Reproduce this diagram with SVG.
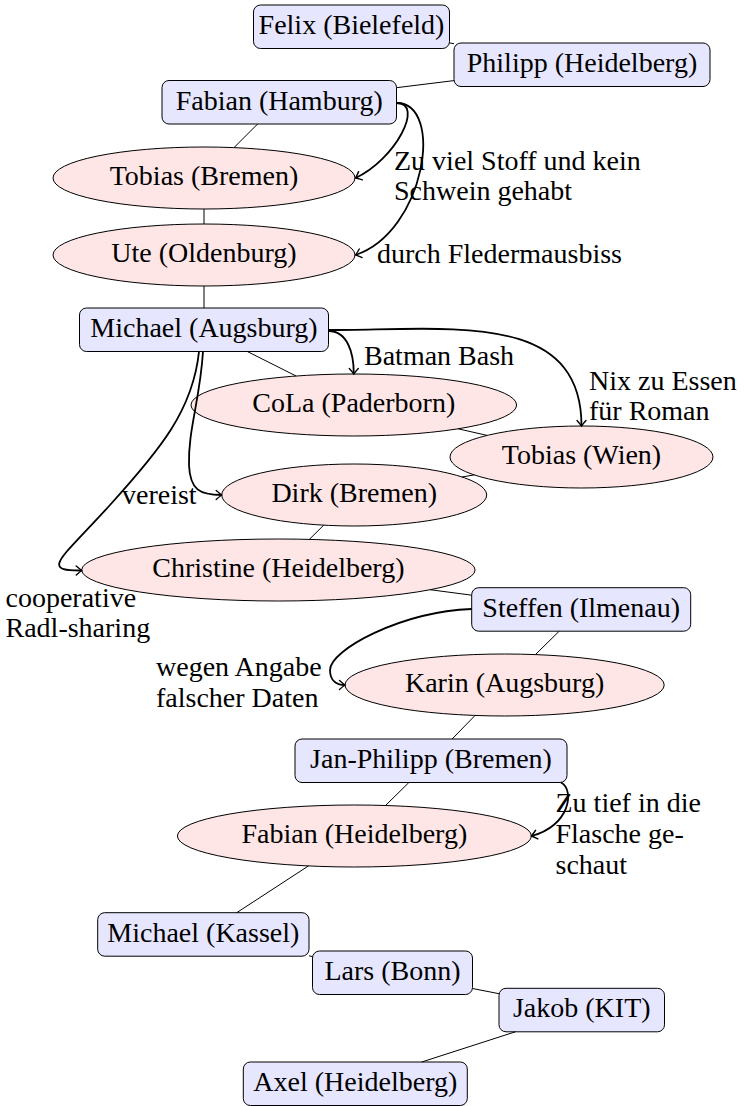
<svg xmlns="http://www.w3.org/2000/svg" width="749" height="1106" viewBox="0 0 749 1106">
<style>
text{font-family:'Liberation Serif','Times New Roman','Tinos','Nimbus Roman','FreeSerif','Noto Serif','DejaVu Serif',serif;font-size:28px;fill:#000}
.n{text-anchor:middle}
.box{fill:#e6e6ff;stroke:#000;stroke-width:1}
.ell{fill:#ffe6e6;stroke:#000;stroke-width:1}
.e{stroke:#000;stroke-width:1;fill:none}
.a{stroke:#000;stroke-width:1.8;fill:none;marker-end:url(#tip)}
</style>
<defs>
<marker id="tip" markerUnits="userSpaceOnUse" viewBox="-7 -6 8 12" markerWidth="8" markerHeight="12" refX="0" refY="0" orient="auto" overflow="visible">
<path d="M-5.5,-4.5 Q-1.5,-1 0,0 Q-1.5,1 -5.5,4.5" fill="none" stroke="#000" stroke-width="1.4" stroke-linecap="round"/>
</marker>
</defs>
<g id="nodes">
<g id="felix"><rect class="box" x="253.5" y="5" width="196" height="43.5" rx="7"/><text class="n" x="351.5" y="34">Felix (Bielefeld)</text></g>
<g id="philipp"><rect class="box" x="454" y="43" width="256" height="43.5" rx="7"/><text class="n" x="582" y="72">Philipp (Heidelberg)</text></g>
<g id="fabian-hamburg"><rect class="box" x="162" y="80.5" width="234.5" height="43.5" rx="7"/><text class="n" x="279.25" y="109.5">Fabian (Hamburg)</text></g>
<g id="tobias-bremen"><ellipse class="ell" cx="204" cy="178" rx="151" ry="31"/><text class="n" x="204" y="185.3">Tobias (Bremen)</text></g>
<g id="ute"><ellipse class="ell" cx="204" cy="255" rx="151" ry="31"/><text class="n" x="204" y="262.3">Ute (Oldenburg)</text></g>
<g id="michael-augsburg"><rect class="box" x="79.5" y="308" width="249" height="43.5" rx="7"/><text class="n" x="204" y="337">Michael (Augsburg)</text></g>
<g id="cola"><ellipse class="ell" cx="353.8" cy="405" rx="162.8" ry="31"/><text class="n" x="353.8" y="412.3">CoLa (Paderborn)</text></g>
<g id="tobias-wien"><ellipse class="ell" cx="581.5" cy="457" rx="131.5" ry="31"/><text class="n" x="581.5" y="464.3">Tobias (Wien)</text></g>
<g id="dirk"><ellipse class="ell" cx="354.2" cy="495" rx="132.5" ry="31"/><text class="n" x="354.2" y="502.3">Dirk (Bremen)</text></g>
<g id="christine"><ellipse class="ell" cx="278.4" cy="570" rx="196.7" ry="31"/><text class="n" x="278.4" y="577.3">Christine (Heidelberg)</text></g>
<g id="steffen"><rect class="box" x="471.7" y="587.7" width="219" height="43.5" rx="7"/><text class="n" x="581.2" y="616.7">Steffen (Ilmenau)</text></g>
<g id="karin"><ellipse class="ell" cx="504.6" cy="685" rx="159.6" ry="31"/><text class="n" x="504.6" y="692.3">Karin (Augsburg)</text></g>
<g id="jan-philipp"><rect class="box" x="295" y="739" width="272" height="43.5" rx="7"/><text class="n" x="431" y="768">Jan-Philipp (Bremen)</text></g>
<g id="fabian-heidelberg"><ellipse class="ell" cx="354.4" cy="836" rx="177" ry="31"/><text class="n" x="354.4" y="843.3">Fabian (Heidelberg)</text></g>
<g id="michael-kassel"><rect class="box" x="97.7" y="912.7" width="211.3" height="43.5" rx="7"/><text class="n" x="203.35" y="941.7">Michael (Kassel)</text></g>
<g id="lars"><rect class="box" x="312.5" y="951" width="160" height="43.5" rx="7"/><text class="n" x="392.5" y="980">Lars (Bonn)</text></g>
<g id="jakob"><rect class="box" x="499" y="988.3" width="165.5" height="43.5" rx="7"/><text class="n" x="581.75" y="1017.3">Jakob (KIT)</text></g>
<g id="axel"><rect class="box" x="243.3" y="1062" width="224" height="43.5" rx="7"/><text class="n" x="355.3" y="1091">Axel (Heidelberg)</text></g>
</g>
<g id="connectors">
<line class="e" x1="449.5" y1="42.9" x2="454" y2="43.7"/>
<line class="e" x1="454" y1="80.6" x2="396.5" y2="87.7"/>
<line class="e" x1="257.6" y1="124" x2="234" y2="147.6"/>
<line class="e" x1="204" y1="209" x2="204" y2="224"/>
<line class="e" x1="204" y1="286" x2="204" y2="308"/>
<line class="e" x1="247.3" y1="351.5" x2="296.1" y2="376"/>
<line class="e" x1="458.1" y1="428.8" x2="487.1" y2="435.4"/>
<line class="e" x1="474.2" y1="474.9" x2="462" y2="477"/>
<line class="e" x1="323.7" y1="525.2" x2="309.3" y2="539.4"/>
<line class="e" x1="430" y1="589.7" x2="471.7" y2="595.2"/>
<line class="e" x1="559.2" y1="631.2" x2="535.4" y2="654.6"/>
<line class="e" x1="475" y1="715.5" x2="452.1" y2="739"/>
<line class="e" x1="408.9" y1="782.5" x2="385.5" y2="805.5"/>
<line class="e" x1="308.5" y1="865.9" x2="236.7" y2="912.7"/>
<line class="e" x1="309" y1="955.8" x2="312.5" y2="956.6"/>
<line class="e" x1="472.5" y1="988.5" x2="499" y2="993.7"/>
<line class="e" x1="515.4" y1="1031.8" x2="421.7" y2="1062"/>
<path class="a" d="M396.5,103 C425,103 395,160 355.5,178"/>
<path class="a" d="M396.5,103 C445,103 425,232 355.5,255"/>
<path class="a" d="M328.5,331 C347,331 353.8,352 353.8,374"/>
<path class="a" d="M328.5,330 C450,330 581.5,310 581.5,426"/>
<path class="a" d="M203,351.5 C200,400 188,430 189,465 C190,490 200,495 221.7,495"/>
<path class="a" d="M199,351.5 C193,410 160,450 110,505 C60,560 40,571 81.7,570.5"/>
<path class="a" d="M471.7,609 C400,612 330,650 330,670 C330,680 336,685 345,685"/>
<path class="a" d="M561,782.5 C575,790 570,826 531.4,836"/>
</g>
<g id="labels">
<text x="394" y="169.5">Zu viel Stoff und kein</text>
<text x="394" y="199.5">Schwein gehabt</text>
<text x="377" y="262.5">durch Fledermausbiss</text>
<text x="364" y="365">Batman Bash</text>
<text x="589" y="390">Nix zu Essen</text>
<text x="589" y="420">für Roman</text>
<text x="122" y="504">vereist</text>
<text x="5.5" y="607">cooperative</text>
<text x="5.5" y="637">Radl-sharing</text>
<text x="156" y="676">wegen Angabe</text>
<text x="156" y="707">falscher Daten</text>
<text x="555.5" y="812">Zu tief in die</text>
<text x="555.5" y="843">Flasche ge-</text>
<text x="555.5" y="874">schaut</text>
</g>
</svg>
